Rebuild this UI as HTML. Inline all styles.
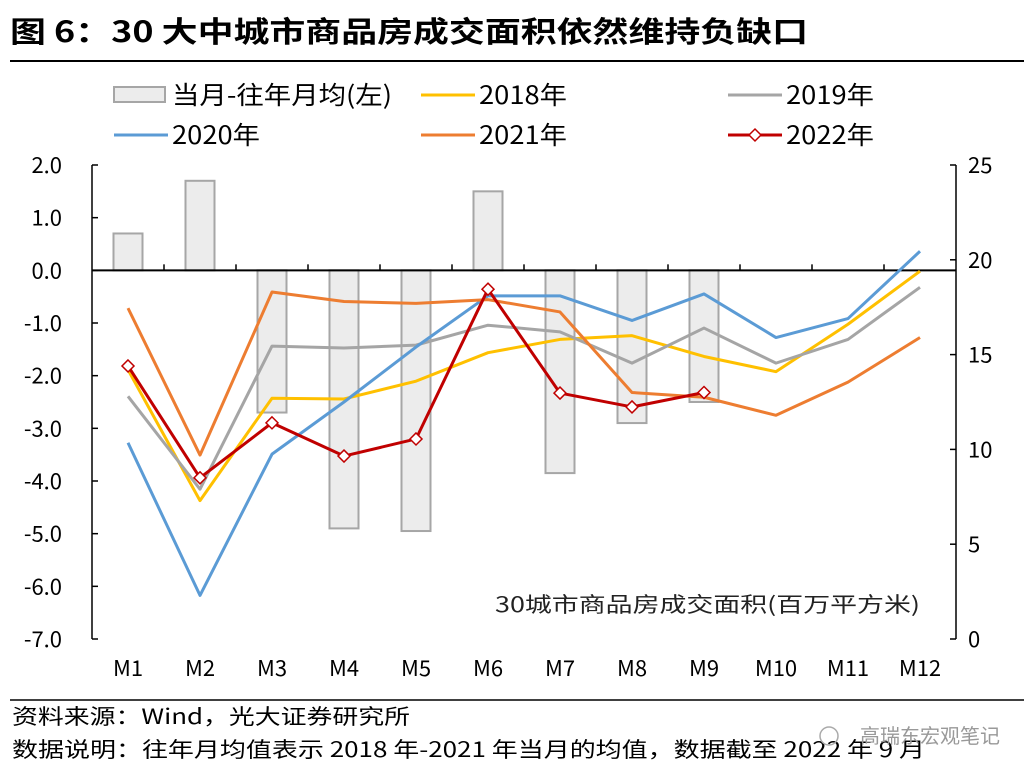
<!DOCTYPE html>
<html><head><meta charset="utf-8"><style>
body{margin:0;background:#fff;}
svg text{font-family:"Noto Sans CJK SC","Liberation Sans",sans-serif;}
</style></head><body>
<svg id="c" width="1034" height="779" xmlns="http://www.w3.org/2000/svg">
<text x="10" y="42" font-size="29" font-weight="bold" fill="#000" textLength="798" lengthAdjust="spacingAndGlyphs">图 6：30 大中城市商品房成交面积依然维持负缺口</text>
<line x1="10" y1="61" x2="1024" y2="61" stroke="#000" stroke-width="2"/>
<g id="legend"></g>
<g id="plot"></g>
<text x="495" y="612" font-size="21" fill="#222" textLength="425" lengthAdjust="spacingAndGlyphs">30城市商品房成交面积(百万平方米)</text>
<line x1="10" y1="700" x2="1024" y2="700" stroke="#000" stroke-width="1.5"/>
<text x="12" y="724" font-size="21" fill="#000" textLength="398" lengthAdjust="spacingAndGlyphs">资料来源：Wind，光大证券研究所</text>
<text x="12" y="757" font-size="21" fill="#000" textLength="913" lengthAdjust="spacingAndGlyphs">数据说明：往年月均值表示 2018 年-2021 年当月的均值，数据截至 2022 年 9 月</text>
<circle cx="829" cy="736" r="9" fill="none" stroke="#aaa" stroke-width="1.5"/>
<text x="1000" y="743" font-size="20" text-anchor="end" fill="#999">高瑞东宏观笔记</text>
</svg>
<script>
const months=["M1","M2","M3","M4","M5","M6","M7","M8","M9","M10","M11","M12"];
const gapValues=[0.7,1.7,-2.7,-4.9,-4.95,1.5,-3.85,-2.9,-2.5];
const s2018=[14.2,7.3,12.7,12.66,13.6,15.1,15.8,16.0,14.9,14.1,16.6,19.4];
const s2019=[12.8,7.9,15.45,15.35,15.5,16.55,16.2,14.55,16.4,14.55,15.8,18.55];
const s2020=[10.35,2.3,9.75,12.5,15.4,18.1,18.1,16.8,18.2,15.9,16.9,20.45];
const s2021=[17.45,9.7,18.3,17.8,17.7,17.9,17.25,13.0,12.75,11.8,13.55,15.9];
const s2022=[14.4,8.5,11.4,9.65,10.55,18.45,12.97,12.24,13.0];
const leftTicks=[2,1,0,-1,-2,-3,-4,-5,-6,-7];
const rightTicks=[25,20,15,10,5,0];
const NS="http://www.w3.org/2000/svg";
const X0=92,X1=956,T=165,B=639;
const step=(X1-X0)/12;
const xs=i=>X0+step*(i+0.5);
const yL=v=>T+(2-v)/9*(B-T);
const yR=v=>B-v/25*(B-T);
function mk(t,a,p){const e=document.createElementNS(NS,t);for(const k in a)e.setAttribute(k,a[k]);p.appendChild(e);return e;}
const plot=document.getElementById('plot');
const lg=document.getElementById('legend');
gapValues.forEach((v,i)=>{const y0=yL(0),y1=yL(v);
const r=mk('rect',{x:xs(i)-14.5,y:Math.min(y0,y1),width:29,height:Math.abs(y1-y0),fill:'#ececec',stroke:'#a6a6a6','stroke-width':2},plot);

});
let a=mk('line',{x1:X0,y1:T,x2:X0,y2:B,stroke:'#000','stroke-width':1.5},plot);

a=mk('line',{x1:X1,y1:T,x2:X1,y2:B,stroke:'#000','stroke-width':1.5},plot);

a=mk('line',{x1:X0,y1:yL(0),x2:X1,y2:yL(0),stroke:'#000','stroke-width':2},plot);

for(let i=1;i<12;i++){const t=mk('line',{x1:X0+step*i,y1:yL(0)-6,x2:X0+step*i,y2:yL(0),stroke:'#000','stroke-width':1.5},plot);
}
leftTicks.forEach(v=>{const y=yL(v);mk('line',{x1:X0,y1:y,x2:X0+6,y2:y,stroke:'#000','stroke-width':1.5},plot);
const t=mk('text',{x:62,y:y+8,'font-size':22,'text-anchor':'end',fill:'#000'},plot);t.textContent=v.toFixed(1);
});
rightTicks.forEach(v=>{const y=yR(v);mk('line',{x1:X1-6,y1:y,x2:X1,y2:y,stroke:'#000','stroke-width':1.5},plot);
const t=mk('text',{x:968,y:y+8,'font-size':22,'text-anchor':'start',fill:'#000'},plot);t.textContent=v;
});
months.forEach((m,i)=>{const t=mk('text',{x:xs(i),y:676,'font-size':22,'text-anchor':'middle',fill:'#000'},plot);t.textContent=m;
});
const series=[[s2018,'#ffc000','2018'],[s2019,'#a5a5a5','2019'],[s2020,'#5b9bd5','2020'],[s2021,'#ed7d31','2021'],[s2022,'#c00000','2022']];
series.forEach(([d,c,n])=>{const p=mk('polyline',{points:d.map((v,i)=>xs(i)+','+yR(v)).join(' '),fill:'none',stroke:c,'stroke-width':3,'stroke-linejoin':'round'},plot);
});
s2022.forEach((v,i)=>{const x=xs(i),y=yR(v);
const m=mk('polygon',{points:`${x},${y-6} ${x+6},${y} ${x},${y+6} ${x-6},${y}`,fill:'#fff',stroke:'#c00000','stroke-width':1.5},plot);
});
function legTxt(x,y,s,n,len){const t=mk('text',{x:x,y:y+9,'font-size':25,fill:'#000',textLength:len,lengthAdjust:'spacingAndGlyphs'},lg);t.textContent=s;
}
let r=mk('rect',{x:114,y:87,width:51,height:15,fill:'#ececec',stroke:'#a6a6a6','stroke-width':2},lg);

legTxt(172,95,'当月-往年月均(左)','gap',220);
function legLine(x,y,c,n,mark){const l=mk('line',{x1:x,y1:y,x2:x+54,y2:y,stroke:c,'stroke-width':3},lg);

if(mark){const cx=x+27;mk('polygon',{points:`${cx},${y-6} ${cx+6},${y} ${cx},${y+6} ${cx-6},${y}`,fill:'#fff',stroke:c,'stroke-width':1.5},lg);}
legTxt(x+58,y,n+'年',n,88);}
legLine(421,95,'#ffc000','2018');
legLine(728,95,'#a5a5a5','2019');
legLine(114,135,'#5b9bd5','2020');
legLine(421,135,'#ed7d31','2021');
legLine(728,135,'#c00000','2022',true);
</script>
</body></html>
